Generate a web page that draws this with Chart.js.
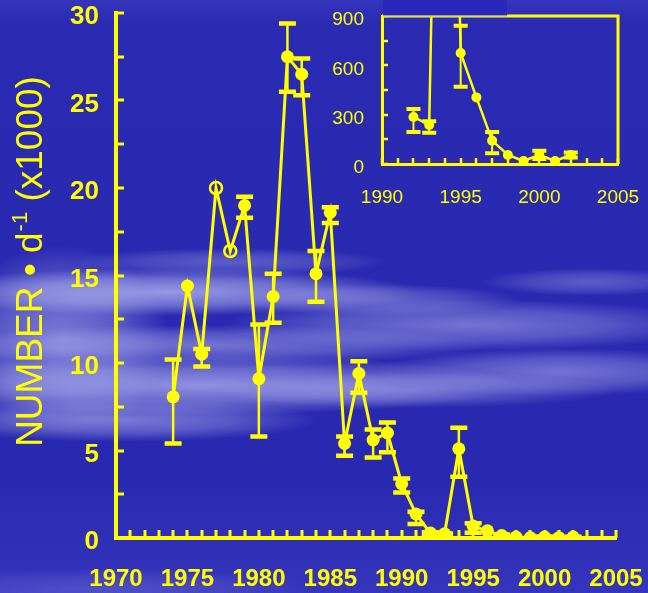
<!DOCTYPE html>
<html>
<head>
<meta charset="utf-8">
<script src="https://cdn.jsdelivr.net/npm/chart.js@4/dist/chart.umd.min.js"></script>
<style>
html,body{margin:0;padding:0;background:#2d2db5;}
body{width:648px;height:593px;overflow:hidden;position:relative;}
#main{position:absolute;left:0;top:0;}
#inset{position:absolute;left:320px;top:0;}
</style>
</head>
<body>
<canvas id="main" width="648" height="593"></canvas>
<canvas id="inset" width="320" height="215"></canvas>
<script>
// ---------- DATA (main chart, thousands per day) ----------
const years = [1974,1975,1976,1977,1978,1979,1980,1981,1982,1983,1984,1985,1986,1987,1988,1989,1990,1991,1992,1993,1994,1995,1996,1997,1998,1999,2000,2001,2002];
const counts = [8.06,14.4,10.5,20.0,16.4,19.0,9.1,13.8,27.5,26.5,15.1,18.6,5.4,9.4,5.6,6.0,3.1,1.37,0.29,0.24,5.1,0.68,0.41,0.14,0.055,0.018,0.055,0.018,0.055];
const errLow  = [5.4,null,9.8,null,null,18.3,5.8,12.3,25.5,25.3,13.5,18.0,4.7,8.3,4.6,4.9,2.6,0.8,0.195,0.19,3.5,0.3,null,0.065,null,null,0.03,null,0.04];
const errHigh = [10.2,null,10.8,null,null,19.5,12.2,15.1,29.4,27.4,16.4,18.9,5.8,10.1,6.2,6.6,3.4,1.5,0.334,0.26,6.3,0.85,null,0.195,null,null,0.08,null,0.07];
const openYears = [1977,1978];
const xTickLabels = [1970,1975,1980,1985,1990,1995,2000,2005];
const yTickLabels = [0,5,10,15,20,25,30];

// ---------- DATA (inset, per day) ----------
const insetYears = [1992,1993,1994,1995,1996,1997,1998,1999,2000,2001,2002];
const insetCounts = [286,237,5100,675,405,142,55,18,55,18,55];
const insetErrLow  = [195,190,3500,470,null,65,null,null,30,null,40];
const insetErrHigh = [334,260,6300,840,null,195,null,null,80,null,70];
const insetXTickLabels = [1990,1995,2000,2005];
const insetYTickLabels = [0,300,600,900];

const YEL = '#ffff00';
const FONT = '"Liberation Sans", Arial, sans-serif';

function noPad(s) { s.paddingTop = 0; s.paddingBottom = 0; s.paddingLeft = 0; s.paddingRight = 0; }

// ---------- plugins ----------
const bgPlugin = {
  id: 'bg',
  beforeDraw(chart) {
    const ctx = chart.ctx, W = chart.width, H = chart.height;
    ctx.save();
    const g = ctx.createLinearGradient(0, 0, 0, H);
    g.addColorStop(0, '#3434bc');
    g.addColorStop(0.04, '#2a2ab3');
    g.addColorStop(0.8, '#2828b0');
    g.addColorStop(1, '#3434bc');
    ctx.fillStyle = g;
    ctx.fillRect(0, 0, W, H);
    const blobs = [
      [60, 340, 110, 95, 0.55],
      [170, 292, 250, 24, 0.75],
      [230, 262, 160, 14, 0.35],
      [210, 345, 280, 20, 0.5],
      [200, 385, 320, 30, 0.7],
      [120, 420, 200, 22, 0.55],
      [470, 325, 250, 26, 0.5],
      [560, 372, 190, 24, 0.5],
      [420, 390, 200, 18, 0.4],
      [590, 282, 110, 14, 0.35],
      [380, 300, 140, 16, 0.4],
      [100, 590, 220, 22, 0.2]
    ];
    for (const [cx, cy, rx, ry, a] of blobs) {
      ctx.save();
      ctx.translate(cx, cy);
      ctx.scale(rx / ry, 1);
      const rg = ctx.createRadialGradient(0, 0, 0, 0, 0, ry);
      rg.addColorStop(0, 'rgba(190,190,245,' + a + ')');
      rg.addColorStop(0.55, 'rgba(190,190,245,' + (a * 0.6) + ')');
      rg.addColorStop(1, 'rgba(190,190,245,0)');
      ctx.fillStyle = rg;
      ctx.beginPath();
      ctx.arc(0, 0, ry, 0, Math.PI * 2);
      ctx.fill();
      ctx.restore();
    }
    ctx.restore();
  }
};

const errPlugin = {
  id: 'errbars',
  afterDatasetsDraw(chart, args, o) {
    const {ctx, chartArea: ca} = chart;
    const xs = chart.scales.x, ys = chart.scales.y;
    ctx.save();
    ctx.beginPath();
    ctx.rect(ca.left - 20, ca.top - 2, ca.right - ca.left + 40, ca.bottom - ca.top + 4);
    ctx.clip();
    ctx.strokeStyle = YEL;
    ctx.lineCap = 'butt';
    for (let i = 0; i < o.xs.length; i++) {
      if (o.lo[i] == null) continue;
      const px = xs.getPixelForValue(o.xs[i]);
      const p1 = ys.getPixelForValue(o.lo[i]);
      const p2 = ys.getPixelForValue(o.hi[i]);
      ctx.lineWidth = o.stem;
      ctx.beginPath(); ctx.moveTo(px, p1); ctx.lineTo(px, p2); ctx.stroke();
      ctx.lineWidth = o.cap;
      ctx.beginPath();
      ctx.moveTo(px - o.capW / 2, p1); ctx.lineTo(px + o.capW / 2, p1);
      ctx.moveTo(px - o.capW / 2, p2); ctx.lineTo(px + o.capW / 2, p2);
      ctx.stroke();
    }
    ctx.restore();
  }
};

const minorTicks = {
  id: 'minorTicks',
  afterDraw(chart, args, o) {
    const {ctx, chartArea: ca} = chart;
    const xs = chart.scales.x, ys = chart.scales.y;
    ctx.save();
    ctx.strokeStyle = YEL;
    ctx.lineWidth = o.w;
    ctx.beginPath();
    for (let v = ys.min; v <= ys.max + 1e-9; v += o.yStep) {
      const py = Math.round(ys.getPixelForValue(v));
      ctx.moveTo(ca.left, py); ctx.lineTo(ca.left + o.len, py);
    }
    for (let v = xs.min; v <= xs.max + 1e-9; v += o.xStep) {
      const px = Math.round(xs.getPixelForValue(v));
      ctx.moveTo(px, ca.bottom); ctx.lineTo(px, ca.bottom - o.len);
    }
    ctx.stroke();
    if (o.box) {
      ctx.lineWidth = o.boxW;
      ctx.beginPath();
      ctx.moveTo(ca.left, ca.top); ctx.lineTo(ca.right, ca.top); ctx.lineTo(ca.right, ca.bottom);
      ctx.stroke();
      // patch over the top-left of the frame
      ctx.fillStyle = '#2b27ba';
      ctx.fillRect(ca.left + 1, 0, 124, ca.top - 0.5);
      ctx.fillStyle = 'rgba(180,180,220,0.8)';
      ctx.fillRect(ca.left + 1, ca.top - 0.5, 124, 1);
    }
    ctx.restore();
  }
};

const titlePlugin = {
  id: 'ytitle',
  afterDraw(chart) {
    const ctx = chart.ctx;
    ctx.save();
    ctx.translate(42, 262);
    ctx.rotate(-Math.PI / 2);
    ctx.fillStyle = YEL;
    ctx.textBaseline = 'alphabetic';
    const big = '37px ' + FONT, small = '22px ' + FONT;
    const p1 = 'NUMBER \u2022 d', p2 = '-1', p3 = ' (x1000)';
    ctx.font = big; const w1 = ctx.measureText(p1).width, w3 = ctx.measureText(p3).width;
    ctx.font = small; const w2 = ctx.measureText(p2).width;
    let sx = -(w1 + w2 + w3) / 2;
    ctx.font = big; ctx.fillText(p1, sx, 0);
    ctx.font = small; ctx.fillText(p2, sx + w1 + 1, -15);
    ctx.font = big; ctx.fillText(p3, sx + w1 + w2 + 1, 0);
    ctx.restore();
  }
};

// ---------- main chart ----------
const mainPoints = years.map((yr, i) => ({x: yr, y: counts[i]}));
new Chart(document.getElementById('main'), {
  type: 'line',
  data: {
    datasets: [{
      data: mainPoints,
      borderColor: YEL,
      borderWidth: 3,
      pointRadius: c => openYears.includes(years[c.dataIndex]) ? 6 : 6.5,
      pointBorderWidth: c => openYears.includes(years[c.dataIndex]) ? 2.5 : 0,
      pointBorderColor: YEL,
      pointBackgroundColor: c => openYears.includes(years[c.dataIndex]) ? 'rgba(0,0,0,0)' : YEL,
      tension: 0
    }]
  },
  options: {
    responsive: false,
    animation: false,
    events: [],
    layout: {padding: {left: 0, top: 13, right: 32, bottom: 0}},
    plugins: {
      legend: {display: false},
      tooltip: {enabled: false},
      errbars: {xs: years, lo: errLow, hi: errHigh, stem: 2.5, cap: 4.5, capW: 17},
      minorTicks: {xStep: 1, yStep: 2.5, len: 8, w: 3}
    },
    scales: {
      x: {
        type: 'linear', min: 1970, max: 2005,
        afterFit: s => { s.height = 55; noPad(s); },
        afterBuildTicks: s => { s.ticks = xTickLabels.map(v => ({value: v})); },
        grid: {display: false, drawTicks: false},
        border: {display: true, color: YEL, width: 4},
        ticks: {color: YEL, font: {family: FONT, size: 24, weight: 'bold'}, padding: 27, maxRotation: 0, autoSkip: false, callback: v => String(v)}
      },
      y: {
        type: 'linear', min: 0, max: 30,
        afterFit: s => { s.width = 116; noPad(s); },
        afterBuildTicks: s => { s.ticks = yTickLabels.map(v => ({value: v})); },
        grid: {display: false, drawTicks: false},
        border: {display: true, color: YEL, width: 4},
        ticks: {color: YEL, font: {family: FONT, size: 26, weight: 'bold'}, padding: 17, labelOffset: 4, autoSkip: false, callback: v => String(v)}
      }
    }
  },
  plugins: [bgPlugin, errPlugin, minorTicks, titlePlugin]
});

// ---------- inset chart ----------
const insetPoints = insetYears.map((yr, i) => ({x: yr, y: insetCounts[i]}));
new Chart(document.getElementById('inset'), {
  type: 'line',
  data: {
    datasets: [{
      data: insetPoints,
      borderColor: YEL,
      borderWidth: 2.5,
      pointRadius: 5,
      pointBorderWidth: 0,
      pointBackgroundColor: YEL,
      tension: 0,
      clip: {left: 8, right: 8, top: 0, bottom: 8}
    }]
  },
  options: {
    responsive: false,
    animation: false,
    events: [],
    layout: {padding: {left: 0, top: 16, right: 22, bottom: 0}},
    plugins: {
      legend: {display: false},
      tooltip: {enabled: false},
      errbars: {xs: insetYears, lo: insetErrLow, hi: insetErrHigh, stem: 2, cap: 4, capW: 14},
      minorTicks: {xStep: 1, yStep: 150, len: 6, w: 2.5, box: true, boxW: 3}
    },
    scales: {
      x: {
        type: 'linear', min: 1990, max: 2005,
        afterFit: s => { s.height = 51; noPad(s); },
        afterBuildTicks: s => { s.ticks = insetXTickLabels.map(v => ({value: v})); },
        grid: {display: false, drawTicks: false},
        border: {display: true, color: YEL, width: 3},
        ticks: {color: YEL, font: {family: FONT, size: 19}, padding: 22, maxRotation: 0, autoSkip: false, callback: v => String(v)}
      },
      y: {
        type: 'linear', min: 0, max: 900,
        afterFit: s => { s.width = 62; noPad(s); },
        afterBuildTicks: s => { s.ticks = insetYTickLabels.map(v => ({value: v})); },
        grid: {display: false, drawTicks: false},
        border: {display: true, color: YEL, width: 3},
        ticks: {color: YEL, font: {family: FONT, size: 19}, padding: 18, labelOffset: 4, autoSkip: false, callback: v => String(v)}
      }
    }
  },
  plugins: [errPlugin, minorTicks]
});
</script>
</body>
</html>
